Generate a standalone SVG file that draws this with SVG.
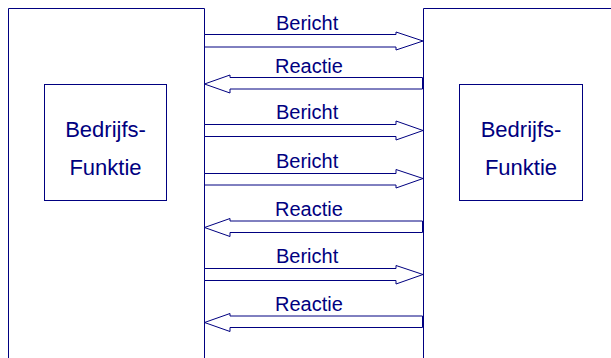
<svg xmlns="http://www.w3.org/2000/svg" width="611" height="358" viewBox="0 0 611 358">
<style>
.frame{fill:none;stroke:#000080;stroke-width:1}
.box{fill:#ffffff;stroke:#000080;stroke-width:1}
.arr{fill:#ffffff;stroke:#000080;stroke-width:1}
.lbl{font-family:"Liberation Sans",Arial,sans-serif;font-size:20px;fill:#000080}
.btxt{font-family:"Liberation Sans",Arial,sans-serif;font-size:22px;fill:#000080;text-anchor:middle}
</style>
<rect width="611" height="358" fill="#ffffff"/>
<g id="system-left">
<path class="frame" d="M8.5,360 V8.5 H204.5 V360"/>
</g>
<g id="system-right">
<path class="frame" d="M423.5,360 V8.5 H612"/>
</g>
<g id="func-left">
<rect class="box" x="44.5" y="84.5" width="122" height="116"/>
<text class="btxt" x="105.5" y="136.5">Bedrijfs-</text>
<text class="btxt" x="105.5" y="174.5">Funktie</text>
</g>
<g id="func-right">
<rect class="box" x="459.5" y="84.5" width="123" height="116"/>
<text class="btxt" x="521" y="136.5">Bedrijfs-</text>
<text class="btxt" x="521" y="174.5">Funktie</text>
</g>
<g id="connectors">
<polygon class="arr" points="204.5,34.5 396,34.5 396,32 423,41 396,50 396,47 204.5,47"/>
<polygon class="arr" points="422.5,77.5 230,77.5 230,75 204.5,84 230,93 230,89 422.5,89"/>
<polygon class="arr" points="204.5,124.5 396,124.5 396,121 423,130.5 396,140 396,136.5 204.5,136.5"/>
<polygon class="arr" points="204.5,173.5 396,173.5 396,169.5 423,178.5 396,188 396,185 204.5,185"/>
<polygon class="arr" points="422.5,221 230,221 230,218.5 204.5,227.5 230,236.5 230,232.5 422.5,232.5"/>
<polygon class="arr" points="204.5,268.5 396,268.5 396,265.5 423,274.5 396,284 396,280.5 204.5,280.5"/>
<polygon class="arr" points="422.5,316 230,316 230,313.5 204.5,322.5 230,331.5 230,327.5 422.5,327.5"/>
<text class="lbl" x="276" y="29.5">Bericht</text>
<text class="lbl" x="275" y="72.5">Reactie</text>
<text class="lbl" x="276" y="119">Bericht</text>
<text class="lbl" x="276" y="167.5">Bericht</text>
<text class="lbl" x="275" y="216">Reactie</text>
<text class="lbl" x="276" y="263">Bericht</text>
<text class="lbl" x="275" y="310.5">Reactie</text>
</g>
</svg>
